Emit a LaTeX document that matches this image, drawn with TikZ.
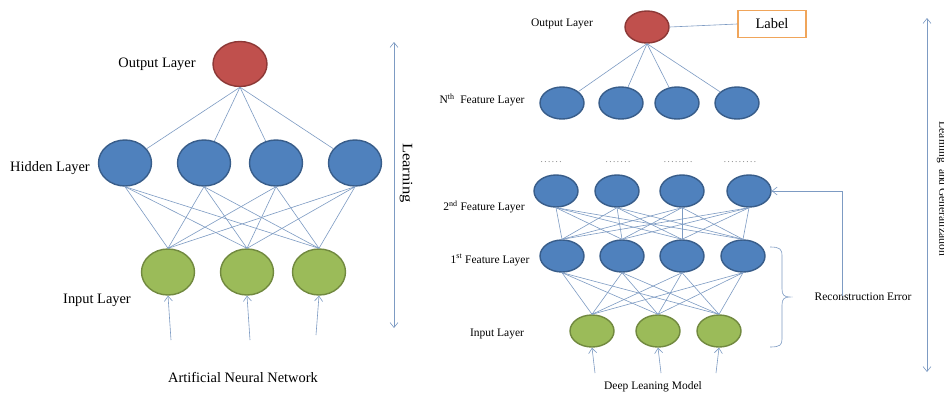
\documentclass[tikz,border=0pt]{standalone}
\usepackage{fontspec}
\setmainfont{Liberation Serif}
\usetikzlibrary{shapes.geometric,arrows.meta}
\definecolor{nblue}{RGB}{79,129,189}
\definecolor{nblueb}{RGB}{56,93,138}
\definecolor{nred}{RGB}{192,80,77}
\definecolor{nredb}{RGB}{140,56,54}
\definecolor{ngreen}{RGB}{155,187,89}
\definecolor{ngreenb}{RGB}{113,137,63}
\definecolor{wirec}{RGB}{125,155,195}
\definecolor{lblorange}{RGB}{240,165,90}
\begin{document}
\begin{tikzpicture}[x=1pt,y=-1pt,
  neuron/.style={ellipse, draw, line width=1.4pt, inner sep=0pt},
  bigneuron/.style={neuron, minimum width=53pt, minimum height=46pt},
  smallneuron/.style={neuron, minimum width=44pt, minimum height=32pt},
  hid/.style={fill=nblue, draw=nblueb},
  outn/.style={fill=nred, draw=nredb},
  inn/.style={fill=ngreen, draw=ngreenb},
  wire/.style={draw=wirec, line width=0.6pt},
  feed/.style={wire, -{Straight Barb[length=5pt,width=8pt]}},
  span/.style={wire, {Straight Barb[length=5pt,width=8pt]}-{Straight Barb[length=5pt,width=8pt]}},
  bigtxt/.style={font=\fontsize{14.4}{17}\selectfont, inner sep=0pt},
  smalltxt/.style={font=\fontsize{11.5}{14}\selectfont, inner sep=0pt},
  dotstxt/.style={font=\fontsize{9}{10}\selectfont, text=black!55, inner sep=0pt},
]
\useasboundingbox (0,0) rectangle (944,394);
\clip (0,0) rectangle (944,394);
\fill[white] (0,0) rectangle (944,394);

% ---------------- Artificial neural network ----------------
\node[bigneuron, outn, minimum width=54pt, minimum height=45pt] (o) at (240,64) {};
\node[bigneuron, hid] (h1) at (125,163) {};
\node[bigneuron, hid] (h2) at (204,163) {};
\node[bigneuron, hid] (h3) at (276,163) {};
\node[bigneuron, hid] (h4) at (355,163) {};
\node[bigneuron, inn] (i1) at (168,272) {};
\node[bigneuron, inn] (i2) at (247,272) {};
\node[bigneuron, inn] (i3) at (319,272) {};

\foreach \h in {h1,h2,h3,h4} {
  \draw[wire] (o.south) -- (\h);
  \foreach \i in {i1,i2,i3} \draw[wire] (\h.south) -- (\i.north);
}

\coordinate (ia1) at (171,340);
\coordinate (ia2) at (250,340);
\coordinate (ia3) at (316,335);
\draw[feed] (ia1) -- (i1.south);
\draw[feed] (ia2) -- (i2.south);
\draw[feed] (ia3) -- (i3.south);

\node[bigtxt] (tout) at (157,64) {Output Layer};
\node[bigtxt] (thid) at (50,168) {Hidden Layer};
\node[bigtxt] (tin) at (97,300) {Input Layer};
\node[bigtxt] (tann) at (243,377) {Artificial Neural Network};

\coordinate (lt) at (394,42);
\coordinate (lb) at (394,328);
\draw[span] (lt) -- (lb);
\node[bigtxt, rotate=-90] (tlearn) at (406,173) {\scalebox{1.15}[1]{Learning}};

% ---------------- Deep learning model ----------------
\node[smallneuron, outn] (o2) at (647,27) {};
\node[draw=lblorange, line width=1.5pt, fill=white, minimum width=68pt, minimum height=27pt,
      font=\fontsize{14.5}{17}\selectfont] (lab) at (772,24) {Label};
\draw[wire] (o2.east) -- (lab.west);

\node[smallneuron, hid] (n1) at (562,103) {};
\node[smallneuron, hid] (n2) at (621,103) {};
\node[smallneuron, hid] (n3) at (677,103) {};
\node[smallneuron, hid] (n4) at (737,103) {};
\foreach \n in {n1,n2,n3,n4} \draw[wire] (o2.south) -- (\n);

\node[dotstxt] (d1) at (551,162) {.\,.\,.\,.\,.\,.};
\node[dotstxt] (d2) at (618,162) {.\,.\,.\,.\,.\,.\,.};
\node[dotstxt] (d3) at (678,162) {.\,.\,.\,.\,.\,.\,.\,.};
\node[dotstxt] (d4) at (740,162) {.\,.\,.\,.\,.\,.\,.\,.\,.};

\node[smallneuron, hid] (b1) at (556,191) {};
\node[smallneuron, hid] (b2) at (617,191) {};
\node[smallneuron, hid] (b3) at (682,191) {};
\node[smallneuron, hid] (b4) at (749,191) {};

\node[smallneuron, hid] (a1) at (562,256) {};
\node[smallneuron, hid] (a2) at (622,256) {};
\node[smallneuron, hid] (a3) at (682,256) {};
\node[smallneuron, hid] (a4) at (743,256) {};

\node[smallneuron, inn] (x1) at (592,331) {};
\node[smallneuron, inn] (x2) at (658,331) {};
\node[smallneuron, inn] (x3) at (719,331) {};

\foreach \b in {b1,b2,b3,b4}
  \foreach \a in {a1,a2,a3,a4} \draw[wire] (\b.south) -- (\a.north);
\foreach \a in {a1,a2,a3,a4}
  \foreach \x in {x1,x2,x3} \draw[wire] (\a.south) -- (\x.north);

\coordinate (xa1) at (595,373);
\coordinate (xa2) at (661,373);
\coordinate (xa3) at (716,373);
\draw[feed] (xa1) -- (x1.south);
\draw[feed] (xa2) -- (x2.south);
\draw[feed] (xa3) -- (x3.south);

\node[smalltxt] (tout2) at (562,24) {Output Layer};
\node[smalltxt] (tnth) at (482,100) {N\textsuperscript{th}\ \ Feature Layer};
\node[smalltxt] (t2nd) at (484,207) {2\textsuperscript{nd} Feature Layer};
\node[smalltxt] (t1st) at (490,260) {1\textsuperscript{st} Feature Layer};
\node[smalltxt] (tin2) at (497,334) {Input Layer};
\node[smalltxt] (tdeep) at (653,387) {Deep Leaning Model};
\node[smalltxt] (trec) at (863,297) {Reconstruction Error};

% brace around the first feature layer and the input layer
\coordinate (bt) at (770,247);
\coordinate (bm) at (790,297);
\coordinate (bb) at (770,347);
\draw[wire] (bt) .. controls (780,247) and (782,249) .. (782,256) -- (782,289)
  .. controls (782,295) and (784,297) .. (bm)
  .. controls (784,297) and (782,299) .. (782,305) -- (782,339)
  .. controls (782,345) and (780,347) .. (bb);

% reconstruction feedback to the second feature layer
\draw[feed] ([xshift=-21pt,yshift=-3pt]trec.north) |- (b4.east);

\coordinate (gt) at (927,18);
\coordinate (gb) at (927,372);
\draw[span] (gt) -- (gb);
\node[smalltxt, rotate=-90] (tgen) at (942,189) {Learning\ \ and Generalization};
\end{tikzpicture}
\end{document}
